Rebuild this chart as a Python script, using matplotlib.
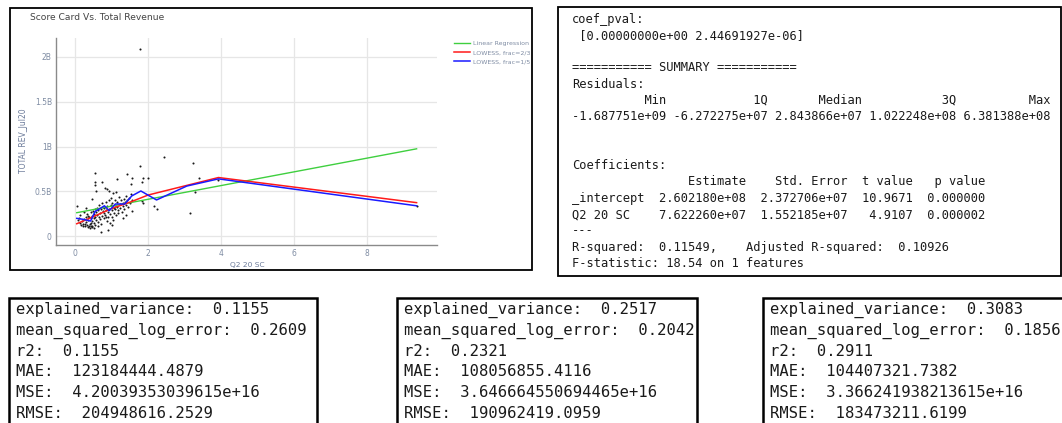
"""
Score card vs. total revenue, with the regression printouts around it
"""

from matplotlib import pyplot as plt
from matplotlib.patches import Rectangle

W, H = 1062, 423

# scatter points (Q2 20 SC, TOTAL_REV_Jul20 in billions)
sc_x = [0.12, 0.15, 0.18, 0.20, 0.22, 0.25, 0.27, 0.30, 0.30, 0.32, 0.33, 0.35, 0.36, 0.38,
        0.40, 0.40, 0.42, 0.43, 0.44, 0.45, 0.46, 0.47, 0.48, 0.50, 0.50, 0.52, 0.53, 0.55,
        0.55, 0.57, 0.58, 0.60, 0.60, 0.62, 0.63, 0.65, 0.66, 0.67, 0.68, 0.70, 0.70, 0.72,
        0.73, 0.75, 0.76, 0.78, 0.78, 0.80, 0.82, 0.83, 0.85, 0.86, 0.88, 0.90, 0.90, 0.92,
        0.93, 0.95, 0.96, 0.97, 0.98, 1.00, 1.00, 1.02, 1.03, 1.05, 1.06, 1.08, 1.10, 1.10,
        1.12, 1.14, 1.15, 1.18, 1.20, 1.22, 1.24, 1.25, 1.27, 1.30, 1.32, 1.33, 1.35, 1.37,
        1.38, 1.40, 1.42, 1.45, 1.47, 1.50, 1.52, 1.55, 0.08, 0.10, 0.14, 0.24, 0.28, 0.38,
        0.45, 0.50, 0.62, 0.85, 1.17, 0.42, 0.36, 0.26,
        1.78, 2.44, 3.24, 3.40, 3.29, 3.15, 3.93, 9.37, 1.78, 1.99, 1.87, 1.84, 1.43, 1.56,
        1.52, 1.15, 0.55, 0.73, 0.54, 0.55, 0.81, 0.88, 0.93, 1.04, 1.12, 0.57, 0.45, 2.16,
        2.23, 1.82, 1.87, 1.57, 1.32, 1.39, 0.70, 0.91, 1.00, 0.04]
sc_y = [0.15, 0.13, 0.17, 0.12, 0.14, 0.19, 0.11, 0.16, 0.22, 0.13, 0.25, 0.10, 0.18, 0.21,
        0.09, 0.14, 0.27, 0.20, 0.12, 0.17, 0.23, 0.10, 0.28, 0.15, 0.20, 0.25, 0.30, 0.13,
        0.22, 0.27, 0.18, 0.32, 0.24, 0.16, 0.29, 0.21, 0.35, 0.26, 0.19, 0.30, 0.14, 0.37,
        0.23, 0.28, 0.33, 0.20, 0.26, 0.31, 0.24, 0.38, 0.29, 0.17, 0.34, 0.27, 0.22, 0.40,
        0.30, 0.25, 0.15, 0.35, 0.43, 0.29, 0.22, 0.37, 0.18, 0.32, 0.26, 0.41, 0.30, 0.35,
        0.24, 0.38, 0.33, 0.29, 0.44, 0.36, 0.31, 0.40, 0.27, 0.37, 0.34, 0.42, 0.30, 0.38,
        0.45, 0.35, 0.40, 0.33, 0.43, 0.37, 0.47, 0.41, 0.18, 0.20, 0.24, 0.27, 0.31, 0.12,
        0.11, 0.09, 0.12, 0.21, 0.26, 0.15, 0.23, 0.14,
        2.085, 0.88, 0.82, 0.65, 0.49, 0.26, 0.63, 0.34, 0.78, 0.65, 0.65, 0.60, 0.69, 0.65,
        0.58, 0.64, 0.71, 0.61, 0.60, 0.57, 0.54, 0.53, 0.50, 0.48, 0.49, 0.51, 0.42, 0.34,
        0.30, 0.39, 0.37, 0.28, 0.20, 0.24, 0.045, 0.07, 0.13, 0.34]

lin_x = [0.04, 9.37]
lin_y = [0.263, 0.975]

low23_x = [0.04, 0.5, 1.0, 1.5, 2.0, 3.93, 9.37]
low23_y = [0.14, 0.22, 0.31, 0.38, 0.46, 0.655, 0.375]

low15_x = [0.04, 0.2, 0.42, 0.54, 0.8, 0.93, 1.1, 1.36, 1.55, 1.8, 2.23, 3.06, 3.93, 9.37]
low15_y = [0.20, 0.19, 0.17, 0.275, 0.34, 0.285, 0.36, 0.36, 0.45, 0.505, 0.405, 0.56, 0.64, 0.34]

x_ticks = [0, 2, 4, 6, 8]
y_ticks = [0, 0.5, 1, 1.5, 2]
y_labels = ['0', '0.5B', '1B', '1.5B', '2B']

summary_lines = [
    "coef_pval:",
    " [0.00000000e+00 2.44691927e-06]",
    "",
    "=========== SUMMARY ===========",
    "Residuals:",
    "          Min            1Q       Median           3Q          Max",
    "-1.687751e+09 -6.272275e+07 2.843866e+07 1.022248e+08 6.381388e+08",
    "",
    "",
    "Coefficients:",
    "                Estimate    Std. Error  t value   p value",
    "_intercept  2.602180e+08  2.372706e+07  10.9671  0.000000",
    "Q2 20 SC    7.622260e+07  1.552185e+07   4.9107  0.000002",
    "---",
    "R-squared:  0.11549,    Adjusted R-squared:  0.10926",
    "F-statistic: 18.54 on 1 features",
]

metrics = [
    ["explained_variance:  0.1155", "mean_squared_log_error:  0.2609", "r2:  0.1155",
     "MAE:  123184444.4879", "MSE:  4.20039353039615e+16", "RMSE:  204948616.2529"],
    ["explained_variance:  0.2517", "mean_squared_log_error:  0.2042", "r2:  0.2321",
     "MAE:  108056855.4116", "MSE:  3.646664550694465e+16", "RMSE:  190962419.0959"],
    ["explained_variance:  0.3083", "mean_squared_log_error:  0.1856", "r2:  0.2911",
     "MAE:  104407321.7382", "MSE:  3.366241938213615e+16", "RMSE:  183473211.6199"],
]


def fx(x):
    return x / W


def fy(y):
    return 1 - y / H


def box(fig, x0, y0, x1, y1, lw):
    fig.patches.append(Rectangle((fx(x0), fy(y1)), (x1 - x0) / W, (y1 - y0) / H,
                                 transform=fig.transFigure, fill=False,
                                 edgecolor='black', linewidth=lw))


fig = plt.figure(figsize=(W / 100, H / 100), dpi=100)
fig.patch.set_facecolor('white')

# ---- chart panel
box(fig, 10, 8, 532, 270, 1.3)
ax = fig.add_axes([fx(56), fy(245), (437 - 56) / W, (245 - 38) / H])
ax.scatter(sc_x, sc_y, s=2.2, color='#1a1a1a', zorder=2, linewidths=0)
ax.plot(lin_x, lin_y, color='#3fcf3f', lw=1.0, label='Linear Regression', zorder=3)
ax.plot(low23_x, low23_y, color='#ff1a1a', lw=1.1, label='LOWESS, frac=2/3', zorder=4)
ax.plot(low15_x, low15_y, color='#1a1aff', lw=1.1, label='LOWESS, frac=1/5', zorder=5)

ax.set_xlim(-0.53, 9.93)
ax.set_ylim(-0.097, 2.21)
ax.set_xticks(x_ticks)
ax.set_yticks(y_ticks)
ax.set_yticklabels(y_labels)
ax.grid(True, color='#e6e6e6', lw=0.9)
ax.set_axisbelow(True)
for s in ['top', 'right']:
    ax.spines[s].set_visible(False)
for s in ['left', 'bottom']:
    ax.spines[s].set_color('#8a8a8a')
    ax.spines[s].set_linewidth(1.0)
ax.tick_params(length=0, labelsize=5.5, labelcolor='#7f8ca3', pad=3)

ax.legend(loc='upper left', bbox_to_anchor=(fx(454), fy(41)), bbox_transform=fig.transFigure,
          frameon=False, fontsize=4.5, handlelength=2.6, handletextpad=0.5,
          labelspacing=0.55, borderaxespad=0, borderpad=0, labelcolor='#7f8ca3')

fig.text(fx(30), fy(18), 'Score Card Vs. Total Revenue', fontsize=6.6, color='#444444',
         va='center', ha='left')
fig.text(fx(247), fy(265), 'Q2 20 SC', fontsize=5.4, color='#6b7a99', va='center', ha='center')
fig.text(fx(24), fy(141), 'TOTAL REV_Jul20', fontsize=5.5, color='#6b7a99', va='center',
         ha='center', rotation=90)

# ---- summary printout
box(fig, 558, 7, 1061, 276, 1.3)
for i, line in enumerate(summary_lines):
    fig.text(fx(572), fy(19 + i * 16.3), line, family='DejaVu Sans Mono', fontsize=8.65,
             color='#1a1a1a', va='center', ha='left')

# ---- metric boxes
box_x = [(9, 317), (397, 697), (763, 1075)]
for (x0, x1), lines in zip(box_x, metrics):
    box(fig, x0, 298, x1, 440, 1.8)
    for i, line in enumerate(lines):
        fig.text(fx(x0 + 7), fy(310 + i * 20.6), line, family='DejaVu Sans Mono',
                 fontsize=11.2, color='#1a1a1a', va='center', ha='left')

fig.savefig('out.png', dpi=100)
